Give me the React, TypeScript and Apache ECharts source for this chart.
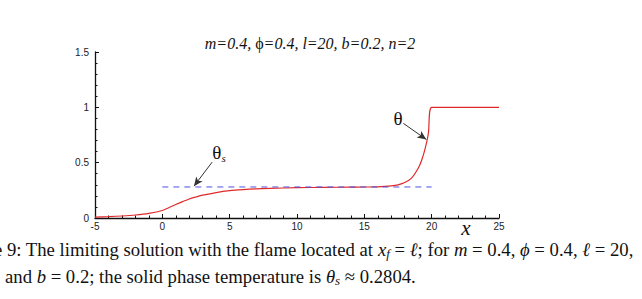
import React, { useEffect, useRef } from "react";
import * as echarts from "echarts";

const xValues = [-5, -4, -3, -2, -1, 0, 0.5, 1, 1.5, 2, 2.5, 3, 4, 5, 6, 7, 8, 10, 12, 14, 15, 16, 16.5, 17, 17.5, 18, 18.5, 19, 19.25, 19.5, 19.75, 20, 25];
const thetaValues = [0.008, 0.012, 0.018, 0.027, 0.042, 0.068, 0.095, 0.122, 0.148, 0.172, 0.19, 0.206, 0.23, 0.247, 0.257, 0.264, 0.268, 0.274, 0.277, 0.279, 0.28, 0.282, 0.285, 0.29, 0.3, 0.32, 0.36, 0.45, 0.52, 0.62, 0.76, 1.0, 1.0];
const thetaS = 0.2804;
const dashedX = [0, 20];
const xTicks = [-5, 0, 5, 10, 15, 20, 25];
const yTicks = [0, 0.5, 1, 1.5];
const titleRich = "{i|m=0.4, }{u|\u03d5}{i|=0.4, l=20, b=0.2, n=2}";

export default function App() {
  const ref = useRef<HTMLDivElement>(null);
  useEffect(() => {
    const chart = echarts.init(ref.current!, null, { renderer: "svg" });
    const serif = "'Liberation Serif', 'DejaVu Serif', serif";
    const sans = "'Liberation Sans', Arial, sans-serif";
    const capSize = 18.7;
    const capRich = {
      n: { fontFamily: serif, fontSize: capSize, fill: "#111" },
      i: { fontFamily: serif, fontStyle: "italic", fontSize: capSize, fill: "#111" },
      sub: { fontFamily: serif, fontStyle: "italic", fontSize: 13, fill: "#111", padding: [9, 0, 0, 0] },
    };
    chart.setOption({
      animation: false,
      backgroundColor: "#ffffff",
      grid: { left: 95, right: 143, top: 52, bottom: 81, containLabel: false },
      xAxis: {
        type: "value",
        min: xTicks[0],
        max: xTicks[xTicks.length - 1],
        interval: 5,
        axisLine: { show: true, onZero: false, lineStyle: { color: "#111", width: 1.3 } },
        axisTick: { show: true, inside: true, length: 4, lineStyle: { color: "#111", width: 1 } },
        minorTick: { show: true, splitNumber: 5, length: 2.5, lineStyle: { color: "#111", width: 1 } },
        splitLine: { show: false },
        axisLabel: { color: "#222", fontFamily: sans, fontSize: 10, margin: 3 },
      },
      yAxis: {
        type: "value",
        min: yTicks[0],
        max: yTicks[yTicks.length - 1],
        interval: 0.5,
        axisLine: { show: true, onZero: false, lineStyle: { color: "#111", width: 1.3 } },
        axisTick: { show: true, inside: true, length: 4, lineStyle: { color: "#111", width: 1 } },
        minorTick: { show: true, splitNumber: 5, length: 2.5, lineStyle: { color: "#111", width: 1 } },
        splitLine: { show: false },
        axisLabel: { color: "#222", fontFamily: sans, fontSize: 10, margin: 6 },
      },
      series: [
        {
          type: "line",
          data: xValues.map((x, i) => [x, thetaValues[i]]),
          showSymbol: false,
          smooth: 0.3,
          lineStyle: { color: "#e02a2a", width: 1.2 },
          markLine: {
            silent: true,
            symbol: ["none", "arrow"],
            symbolSize: [6, 9],
            label: { show: false },
            lineStyle: { color: "#333", width: 1, type: "solid" },
            data: [
              [{ coord: [3.7, 0.505] }, { coord: [2.35, 0.288] }],
              [{ coord: [17.9, 0.855] }, { coord: [19.6, 0.71] }],
            ],
          },
        },
        {
          type: "line",
          data: dashedX.map((x) => [x, thetaS]),
          showSymbol: false,
          lineStyle: { color: "#5050e0", width: 1, type: [6, 5] },
        },
      ],
      graphic: [
        {
          type: "text",
          x: 310,
          y: 43,
          style: {
            text: titleRich,
            align: "center",
            verticalAlign: "middle",
            rich: {
              i: { fontFamily: serif, fontStyle: "italic", fontSize: 16, fill: "#111" },
              u: { fontFamily: serif, fontSize: 16, fill: "#111" },
            },
          },
        },
        {
          type: "text",
          x: 219,
          y: 152,
          style: {
            text: "{t|\u03b8}{s|s}",
            align: "center",
            verticalAlign: "middle",
            rich: {
              t: { fontFamily: serif, fontSize: 19, fill: "#111" },
              s: { fontFamily: serif, fontStyle: "italic", fontSize: 11, fill: "#111", padding: [12, 0, 0, 0] },
            },
          },
        },
        {
          type: "text",
          x: 398,
          y: 118,
          style: {
            text: "\u03b8",
            font: "19px " + serif,
            fill: "#111",
            align: "center",
            verticalAlign: "middle",
          },
        },
        {
          type: "text",
          x: 466,
          y: 228,
          style: {
            text: "x",
            font: "italic 21px " + serif,
            fill: "#111",
            align: "center",
            verticalAlign: "middle",
          },
        },
        {
          type: "text",
          x: -6,
          y: 249,
          style: {
            text:
              "{n|e 9: The limiting solution with the flame located at }{i|x}{sub|f}{n| = }{i|\u2113}{n|; for }{i|m}{n| = 0.4, }{i|\u03d5}{n| = 0.4, }{i|\u2113}{n| = 20,}",
            verticalAlign: "middle",
            rich: capRich,
          },
        },
        {
          type: "text",
          x: 5,
          y: 276,
          style: {
            text:
              "{n|and }{i|b}{n| = 0.2; the solid phase temperature is }{i|\u03b8}{sub|s}{n| \u2248 0.2804.}",
            verticalAlign: "middle",
            rich: capRich,
          },
        },
      ],
    });
    return () => chart.dispose();
  }, []);
  return <div ref={ref} style={{ width: 642, height: 299, position: "absolute", left: 0, top: 0 }} />;
}
